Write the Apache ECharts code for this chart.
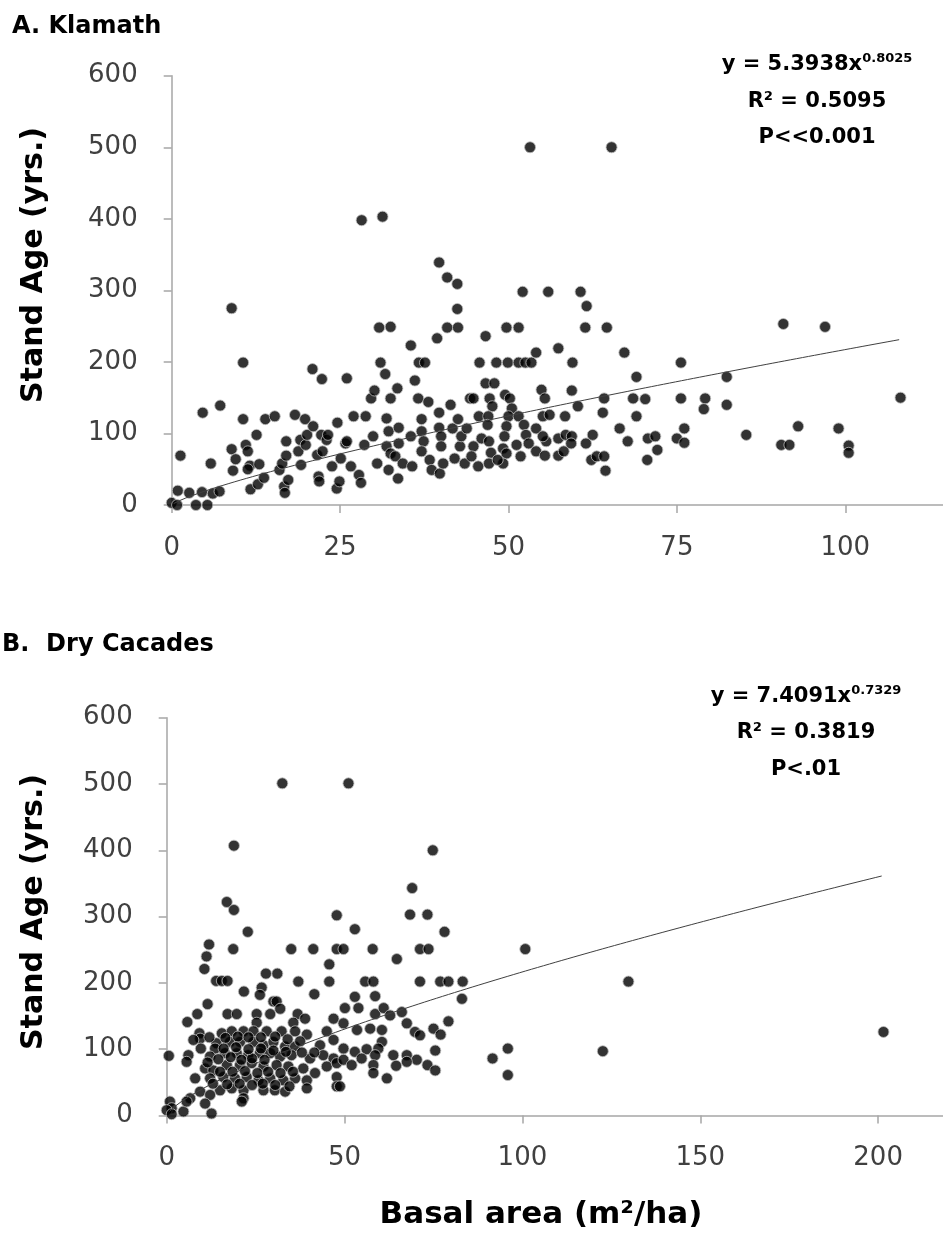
<!DOCTYPE html>
<html>
<head>
<meta charset="utf-8">
<script src="https://cdn.jsdelivr.net/npm/echarts@6/dist/echarts.min.js"></script>
<style>
  html, body { margin: 0; padding: 0; background: #fff; }
  #main { width: 943px; height: 1253px; }
</style>
</head>
<body>
<div id="main"></div>
<script>
// Klamath: [basal area, stand age]
var klamathPoints = [
  [0,3],[0.8,0],[0.9,20],[1.3,69],[2.6,17],[3.6,0],[4.5,18],[4.6,129],[5.3,0],[5.8,58],[6.1,16],[7.1,19],[7.2,139],
  [8.9,275],[8.9,78],[9.5,64],[9.1,48],[10.6,199],[10.6,120],[11,84],[11.3,75],[11.6,55],[11.3,50],[11.7,22],
  [12.6,98],[12.8,29],[13,57],[13.7,38],[13.9,120],[15.3,124],[16,49],[16.4,58],[16.7,26],[16.8,17],[17,89],[17,69],
  [17.3,35],[18.3,126],[18.8,75],[19.1,91],[19.2,56],[19.8,120],[19.9,84],[20.1,98],[20.9,190],[21,110],[21.6,70],
  [21.8,40],[21.9,33],[22.2,98],[22.3,176],[22.4,75],[23,91],[23.2,98],[23.8,54],[24.6,115],[24.5,23],[24.9,33],
  [25.1,65],[25.8,86],[26,177],[26,89],[26.6,54],[27,124],[27.8,42],[28.1,31],[28.6,84],[28.8,124],[29.6,149],
  [29.9,96],[30.1,160],[30.5,58],[30.8,248],[31,199],[31.7,183],[31.9,121],[32.2,103],[31.9,82],[32.2,49],
  [32.5,249],[32.5,149],[32.5,72],[28.2,398],[31.3,403],
  [33.5,163],[33.7,108],[33.7,86],[33.2,68],[34.3,58],[33.6,37],[35.5,223],[35.5,96],[35.7,54],[36.1,174],
  [36.7,199],[37.6,199],[36.6,149],[37.1,120],[37.1,103],[37.4,89],[37.1,75],[38.3,63],[38.1,144],[39.4,233],
  [39.7,129],[39.7,108],[40,96],[40,82],[38.6,49],[39.8,44],[40.3,58],[40.9,248],[42.5,248],[42.4,274],[41.4,140],
  [41.7,107],[42.5,120],[42.8,82],[42,65],[43,96],[43.5,58],[44.3,149],[44.8,149],[43.8,107],[44.8,82],[44.5,68],
  [45.5,54],[45.7,199],[45.6,124],[46,93],[46.6,236],[46.6,170],[47.9,170],[47.2,149],[47.6,138],[47,124],
  [46.9,112],[47.1,89],[47.4,73],[47.1,58],[48.2,199],[49.7,248],[49.9,199],[49.5,154],[50.2,149],[50.5,135],
  [50,124],[49.7,110],[49.4,96],[49.2,79],[49.7,72],[49.2,58],[48.4,63],[51.5,248],[51.5,199],[52.5,199],
  [51.5,124],[51.2,84],[51.8,68],[52.3,112],[52.6,98],[53,86],[53.4,199],[54.1,213],[54.1,107],[54.1,75],
  [54.9,161],[55.4,149],[55.1,124],[56.1,126],[55.6,89],[55.1,96],[55.4,69],[57.4,219],[57.4,93],[57.4,69],[58.2,75],
  [58.4,124],[58.5,98],[59.5,199],[59.4,96],[59.4,160],[60.3,138],[59.3,86],[61.6,278],[61.4,248],[64.6,248],
  [61.5,86],[62.5,98],[62.3,63],[63.1,68],[64.2,68],[64,129],[64.2,149],[64.4,48],
  [39.7,339],[40.9,318],[42.4,309],[52.1,298],[55.9,298],[60.7,298],[53.2,500],[65.3,500],
  [67.2,213],[69,179],[75.6,199],[82.4,179],[90.8,253],[97,249],[68.5,149],[70.3,148],[75.6,149],[79.2,149],
  [79,134],[82.4,140],[69,124],[66.5,107],[67.7,89],[70.7,93],[71.8,96],[72.1,77],[70.6,63],[75,93],[76.1,107],
  [76.1,87],[85.3,98],[90.5,84],[91.7,84],[93,110],[99,107],[100.5,83],[100.5,73],[108.2,150]
];

// Dry Cascades: [basal area, stand age]
var cascadesPoints = [
  [16.9,322],[18.9,310],[22.8,277],[11.9,258],[11.2,240],[10.6,221],[18.7,251],[35,251],[41.2,251],[47.8,251],
  [45.7,228],[47.8,302],[13.9,203],[15.5,203],[17.1,203],[27.9,214],[31.1,214],[37,202],[45.7,202],[21.7,187],
  [26.7,193],[26.2,182],[41.5,183],[30,172],[30.9,172],[31.9,161],[11.5,168],[8.6,153],[5.8,141],[17.1,153],
  [19.7,153],[25.3,153],[29.1,153],[25.3,140],[36.8,153],[38.9,146],[35.6,140],[46.9,146],[9.2,124],[9.4,116],
  [7.5,114],[0.6,90],[6.1,91],[5.6,81],[9.6,101],[15.5,124],[18.3,127],[21.6,127],[24.4,127],[28.1,127],
  [32.3,127],[36.1,127],[39.4,122],[45,127],[14,109],[13.6,101],[17.8,111],[20.6,111],[24.4,111],[27.2,106],
  [30,111],[33.3,104],[36.1,104],[43.1,106],[46.9,114],[12.2,89],[16.4,94],[19.7,94],[22.9,91],[26.2,94],
  [29.1,94],[31.9,89],[35.1,91],[40.3,86],[44,91],[46.9,86],[10.8,71],[13.1,68],[16.9,76],[20.6,76],[23.9,79],
  [27.2,74],[30.9,76],[34.2,74],[38.4,71],[41.7,64],[45,74],[47.8,79],[8,56],[12.2,56],[15.9,58],[19.2,56],
  [22.5,58],[25.8,53],[29.1,56],[32.8,53],[36.1,56],[39.4,53],[47.8,58],[15,38],[18.3,41],[21.6,38],[27.2,38],
  [30.4,38],[33.3,36],[39.4,41],[47.8,44],[9.4,36],[6.6,26],[12.2,31],[21.6,26],[21.1,21],[0.9,21],[1.4,11],
  [4.7,6],[12.6,3],[0,8],[1.4,2],[5.6,21],[10.8,18],
  [14.5,85],[18,88],[21,84],[24,86],[27.5,84],[11.5,80],[15,66],[18.5,66],[22,67],[25.5,64],[28.5,66],[32,64],
  [35.5,66],[13,48],[17,47],[20.5,48],[24,46],[27,48],[30.5,46],[34.5,44],[12,118],[16.5,117],[20,119],[23,118],
  [26.5,118],[30.5,119],[34,115],[37.5,112],[16,101],[19.5,103],[23,100],[26.5,101],[30,98],[33.5,96],[38,95],[41.5,95],
  [69,343],[68.4,303],[73.3,303],[52.9,281],[78.1,277],[49.7,251],[57.9,251],[71.2,251],[73.6,251],[64.7,236],
  [55.8,202],[58.1,202],[71.2,202],[76.9,202],[79.2,202],[83.2,202],[83,176],[52.9,179],[58.6,180],[50.1,162],
  [53.9,162],[58.6,153],[61,162],[62.8,151],[66.1,156],[67.5,139],[79.2,142],[49.7,139],[53.5,129],[57.2,131],
  [60.5,129],[69.8,126],[71.2,121],[75,131],[77,122],[60.5,111],[59.5,101],[49.7,101],[52.9,96],[56.2,100],
  [75.5,98],[58.6,91],[63.7,91],[67.5,91],[49.7,84],[54.8,86],[70.3,84],[52,76],[58.1,76],[64.5,75],[73.3,76],
  [67.5,81],[91.6,86],[95.9,101],[95.9,61],[58.1,64],[61.9,56],[75.5,68],[48.7,44],
  [32.5,501],[51.1,501],[18.9,407],[74.8,400],[100.8,251],[129.8,202],[122.6,97],[201.5,126]
];

// power trendlines as printed on the chart
var klamathFit = { a: 5.3938, b: 0.8025, from: 0.3, to: 108 };
var cascadesFit = { a: 7.4091, b: 0.7329, from: 0.8, to: 201 };

var ageTicks = { min: 0, max: 600, interval: 100 };

function fitLine(f) {
  var pts = [];
  for (var i = 0; i <= 120; i++) {
    var x = f.from + (f.to - f.from) * i / 120;
    pts.push([x, f.a * Math.pow(x, f.b)]);
  }
  return pts;
}

var myChart = echarts.init(document.getElementById('main'));

var axisGray = '#a6a6a6';
var labelStyle = { fontFamily: 'DejaVu Sans', fontSize: 26, color: '#404040' };

function xAx(idx, interval) {
  return {
    type: 'value', gridIndex: idx, min: 0, interval: interval,
    axisLine: { lineStyle: { color: axisGray, width: 1.5 } },
    axisTick: { length: 8, lineStyle: { color: axisGray, width: 1.5 } },
    splitLine: { show: false },
    axisLabel: Object.assign({ margin: 30 }, labelStyle)
  };
}
function yAx(idx) {
  return {
    type: 'value', gridIndex: idx, min: ageTicks.min, max: ageTicks.max, interval: ageTicks.interval,
    axisLine: { show: true, lineStyle: { color: axisGray, width: 1.5 } },
    axisTick: { show: true, length: 8, lineStyle: { color: axisGray, width: 1.5 } },
    splitLine: { show: false },
    axisLabel: Object.assign({ margin: 34 }, labelStyle)
  };
}

var dot = { color: '#000', borderColor: '#bdbdbd', borderWidth: 1 };
var boldFont = 'DejaVu Sans';

option = {
  animation: false,
  backgroundColor: '#fff',
  grid: [
    { left: 171.7, top: 75.7, height: 429.3, right: -37, outerBoundsMode: 'none' },
    { left: 166.7, top: 717.7, height: 397.8, right: -113, outerBoundsMode: 'none' }
  ],
  xAxis: [xAx(0, 25), xAx(1, 50)],
  yAxis: [yAx(0), yAx(1)],
  series: [
    { type: 'scatter', xAxisIndex: 0, yAxisIndex: 0, data: klamathPoints, symbolSize: 11, itemStyle: dot },
    { type: 'line', xAxisIndex: 0, yAxisIndex: 0, data: fitLine(klamathFit), showSymbol: false, z: 5,
      lineStyle: { color: '#404040', width: 1 } },
    { type: 'scatter', xAxisIndex: 1, yAxisIndex: 1, data: cascadesPoints, symbolSize: 11, itemStyle: dot },
    { type: 'line', xAxisIndex: 1, yAxisIndex: 1, data: fitLine(cascadesFit), showSymbol: false, z: 5,
      lineStyle: { color: '#404040', width: 1 } }
  ],
  graphic: [
    { type: 'text', x: 12, y: 27, style: { text: 'A. Klamath', font: 'bold 24px ' + boldFont, fill: '#000', verticalAlign: 'middle' } },
    { type: 'text', x: 2, y: 645, style: { text: 'B.  Dry Cacades', font: 'bold 24px ' + boldFont, fill: '#000', verticalAlign: 'middle' } },
    { type: 'text', x: 34, y: 265, rotation: Math.PI / 2,
      style: { text: 'Stand Age (yrs.)', font: 'bold 30px ' + boldFont, fill: '#000', align: 'center', verticalAlign: 'middle' } },
    { type: 'text', x: 34, y: 912, rotation: Math.PI / 2,
      style: { text: 'Stand Age (yrs.)', font: 'bold 30px ' + boldFont, fill: '#000', align: 'center', verticalAlign: 'middle' } },
    { type: 'text', x: 541, y: 1215,
      style: { text: 'Basal area (m²/ha)', font: 'bold 31px ' + boldFont, fill: '#000', align: 'center', verticalAlign: 'middle' } },
    // equations
    { type: 'text', x: 817, y: 65, style: { text: '{m|y = 5.3938x}{s|0.8025}', align: 'center', verticalAlign: 'middle',
      rich: { m: { font: 'bold 21px ' + boldFont, fill: '#000', lineHeight: 26 },
              s: { font: 'bold 13px ' + boldFont, fill: '#000', verticalAlign: 'top', lineHeight: 26 } } } },
    { type: 'text', x: 817, y: 102, style: { text: 'R² = 0.5095', font: 'bold 21px ' + boldFont, fill: '#000', align: 'center', verticalAlign: 'middle' } },
    { type: 'text', x: 817, y: 138, style: { text: 'P<<0.001', font: 'bold 21px ' + boldFont, fill: '#000', align: 'center', verticalAlign: 'middle' } },
    { type: 'text', x: 806, y: 697, style: { text: '{m|y = 7.4091x}{s|0.7329}', align: 'center', verticalAlign: 'middle',
      rich: { m: { font: 'bold 21px ' + boldFont, fill: '#000', lineHeight: 26 },
              s: { font: 'bold 13px ' + boldFont, fill: '#000', verticalAlign: 'top', lineHeight: 26 } } } },
    { type: 'text', x: 806, y: 733, style: { text: 'R² = 0.3819', font: 'bold 21px ' + boldFont, fill: '#000', align: 'center', verticalAlign: 'middle' } },
    { type: 'text', x: 806, y: 770, style: { text: 'P<.01', font: 'bold 21px ' + boldFont, fill: '#000', align: 'center', verticalAlign: 'middle' } }
  ]
};
myChart.setOption(option);
</script>
</body>
</html>
